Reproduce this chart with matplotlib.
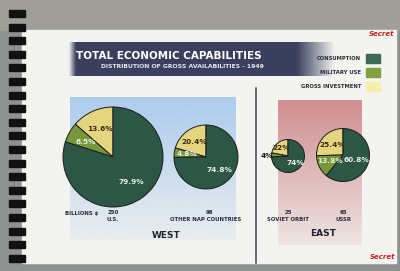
import numpy as np
import matplotlib
matplotlib.use("Agg")
import matplotlib.pyplot as plt
from matplotlib.patches import Rectangle

# data
countries = ["U.S.", "OTHER NAP COUNTRIES", "SOVIET ORBIT", "USSR"]
totals = [250, 98, 25, 65]              # billions $
investment = [13.6, 20.4, 22, 25.4]     # % of gross availabilities
military = [6.5, 4.8, 4, 13.8]
consumption = [79.9, 74.8, 74, 60.8]
pct_fmt = ["%.1f%%", "%.1f%%", "%d%%", "%.1f%%"]
legend_labels = ["CONSUMPTION", "MILITARY USE", "GROSS INVESTMENT"]

c_cons = "#2c5646"
c_mil = "#77983a"
c_inv = "#e4d57e"
swatch = ["#3b6a58", "#7fa23e", "#f6eeaa"]
navy = (0.23, 0.25, 0.37)

H = 271
fig = plt.figure(figsize=(4, 2.71), dpi=100)
ax = fig.add_axes([0, 0, 1, 1])

def Y(y):
    return H - y

# photo surroundings: grey desk, white page, spiral binding
ax.add_patch(Rectangle((0, 0), 400, H, color="#8e9190", zorder=0))
ax.add_patch(Rectangle((0, Y(30)), 400, 30, color="#a09f97", zorder=0))
ax.add_patch(Rectangle((22, Y(263)), 374, 233, color="#f3f3ef", zorder=0))
for yy in np.arange(10, 262, 13.6):
    ax.add_patch(Rectangle((9, Y(yy + 7)), 16, 7, color="#111111", zorder=1))

# soft coloured backgrounds
def wash(x0, x1, y0, y1, rgb, alpha, z=1):
    img = np.zeros((alpha.shape[0], alpha.shape[1], 4))
    img[..., :3] = rgb
    img[..., 3] = alpha
    ax.imshow(img, extent=(x0, x1, Y(y1), Y(y0)), origin="upper",
              interpolation="bicubic", zorder=z, aspect="auto")

vert = np.linspace(1, 0.15, 60)[:, None] * np.ones((1, 20))
wash(70, 236, 97, 240, (0.68, 0.80, 0.93), vert)
wash(278, 362, 100, 245, (0.82, 0.56, 0.57), vert)

# title banner, fading out on the right
s = np.linspace(0, 1, 120)
horiz = np.clip(s * 40, 0, 1) * np.clip((1 - s) * 7, 0, 1)
wash(68, 336, 42, 76, navy, np.ones((10, 1)) * horiz[None, :], z=2)
ax.text(76, Y(56), "TOTAL ECONOMIC CAPABILITIES", color="white", fontsize=7.5,
        fontweight="bold", va="center", ha="left", zorder=3)
ax.text(101, Y(67), "DISTRIBUTION OF GROSS AVAILABILITIES - 1949", color="#e8e8f0",
        fontsize=4.4, fontweight="bold", va="center", ha="left", zorder=3)

# legend
for i, lab in enumerate(legend_labels):
    yy = 58 + 14.3 * i
    ax.text(361, Y(yy), lab, fontsize=3.8, fontweight="bold", color="#2a2a3a",
            ha="right", va="center", zorder=3)
    ax.add_patch(Rectangle((366, Y(yy + 4.5)), 14, 9, color=swatch[i], zorder=3))

# divider
ax.plot([256, 256], [Y(88), Y(263)], color="#3c4458", lw=1.1, zorder=2)

# pies
centers = [(113, 157), (206, 157), (288, 156), (343, 155)]
radii = [50, 32, 16.5, 26.5]
pctd = [0.62, 0.6, 0.62, 0.55]
for i in range(4):
    vals = [investment[i], military[i], consumption[i]]
    cx, cy = centers[i]
    wedges, texts, auto = ax.pie(
        vals, colors=[c_inv, c_mil, c_cons], startangle=90, counterclock=True,
        center=(cx, Y(cy)), radius=radii[i], pctdistance=pctd[i],
        autopct=lambda p, f=pct_fmt[i]: f % round(p, 1),
        wedgeprops=dict(edgecolor="#1c1c1c", linewidth=0.7),
        textprops=dict(fontsize=5.3, fontweight="bold"))
    for w in wedges:
        w.set_zorder(4)
    for j, t in enumerate(auto):
        t.set_zorder(5)
        t.set_color("#3a2a10" if j == 0 else "#e6f0ea")
    if i == 2:
        # small military slice labelled outside
        tx, ty = auto[1].get_position()
        auto[1].set_position((cx + (tx - cx) * 2.1, Y(cy) + (ty - Y(cy)) * 0.3))
        auto[1].set_color("#1a1a1a")
    if i == 3:
        auto[1].set_color("#e0f0c8")

# pie captions
ax.text(65, Y(213), "BILLIONS $", fontsize=3.9, fontweight="bold", color="#2a2a40",
        ha="left", va="center", zorder=3)
for i in range(4):
    cx = centers[i][0]
    ax.text(cx + (0 if i != 1 else 4), Y(212), str(totals[i]), fontsize=3.9,
            fontweight="bold", color="#2a2a40", ha="center", va="center", zorder=3)
    ax.text(cx, Y(219.5), countries[i], fontsize=3.9, fontweight="bold",
            color="#2a2a40", ha="center", va="center", zorder=3)

ax.text(166, Y(236), "WEST", fontsize=6.5, fontweight="bold", color="#1f2438",
        ha="center", va="center", zorder=3)
ax.text(323, Y(234), "EAST", fontsize=6.5, fontweight="bold", color="#1f2438",
        ha="center", va="center", zorder=3)

# classification stamps
for (sx, sy) in [(382, 34), (383, 257)]:
    ax.text(sx, Y(sy), "Secret", fontsize=5, fontweight="bold", style="italic",
            color="#c8202a", ha="center", va="center", zorder=3)

# pie() resets the limits, so fix the pixel frame last
ax.set_xlim(0, 400)
ax.set_ylim(0, H)
ax.set_aspect("equal")
ax.axis("off")

fig.savefig("out.png", dpi=100)
